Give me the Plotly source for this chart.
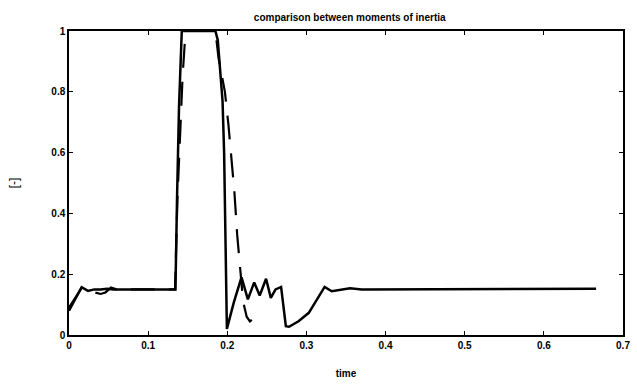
import plotly.graph_objects as go

# Solid series (time, value)
solid_t = [0.0, 0.006, 0.016, 0.024, 0.032, 0.040, 0.048, 0.056, 0.070, 0.090, 0.110, 0.125, 0.1345,
           0.1365, 0.139, 0.1425, 0.160, 0.185, 0.188, 0.191, 0.194, 0.196, 0.1975, 0.1985, 0.1995,
           0.208, 0.218, 0.226, 0.234, 0.241, 0.249, 0.255, 0.261, 0.268, 0.274, 0.278, 0.290,
           0.303, 0.316, 0.323, 0.332, 0.340, 0.355, 0.370, 0.450, 0.550, 0.666]
solid_v = [0.08, 0.11, 0.157, 0.145, 0.150, 0.150, 0.152, 0.150, 0.150, 0.152, 0.150, 0.150, 0.150,
           0.45, 0.75, 1.0, 1.0, 1.0, 0.97, 0.88, 0.77, 0.60, 0.40, 0.20, 0.02,
           0.105, 0.19, 0.117, 0.173, 0.13, 0.185, 0.122, 0.15, 0.158, 0.029, 0.027, 0.045,
           0.073, 0.127, 0.158, 0.144, 0.147, 0.154, 0.150, 0.150, 0.151, 0.152]

# Dashed series (time, value)
dashed_t = [0.0, 0.005, 0.016, 0.025, 0.033, 0.040, 0.046, 0.053, 0.060, 0.090, 0.120, 0.134,
            0.137, 0.1405, 0.1435, 0.146, 0.1475, 0.170, 0.185, 0.189, 0.197, 0.2015, 0.2055,
            0.209, 0.2125, 0.2165, 0.220, 0.2245, 0.2286, 0.231]
dashed_v = [0.09, 0.11, 0.155, 0.145, 0.140, 0.135, 0.140, 0.156, 0.150, 0.150, 0.150, 0.150,
            0.45, 0.70, 0.85, 0.95, 1.0, 1.0, 1.0, 0.91, 0.80, 0.69, 0.58,
            0.47, 0.33, 0.20, 0.11, 0.06, 0.045, 0.05]

x_ticks = [0, 0.1, 0.2, 0.3, 0.4, 0.5, 0.6, 0.7]
x_labels = ["0", "0.1", "0.2", "0.3", "0.4", "0.5", "0.6", "0.7"]
y_ticks = [0, 0.2, 0.4, 0.6, 0.8, 1]
y_labels = ["0", "0.2", "0.4", "0.6", "0.8", "1"]

fig = go.Figure()
fig.add_trace(go.Scatter(x=dashed_t, y=dashed_v, mode="lines", cliponaxis=False,
                         line=dict(color="black", width=2.2, dash="24px,14px")))
fig.add_trace(go.Scatter(x=solid_t, y=solid_v, mode="lines", cliponaxis=False,
                         line=dict(color="black", width=2.5)))

tickfont = dict(family="Liberation Sans, Arial, sans-serif", size=10, color="black", weight="bold")
fig.update_layout(
    width=637, height=385,
    margin=dict(l=69, r=7, t=31, b=50),
    paper_bgcolor="white", plot_bgcolor="white",
    showlegend=False,
    title=dict(text="comparison between moments of inertia", x=0.549, xanchor="center",
               y=0.955, yanchor="middle",
               font=dict(family="Liberation Sans, Arial, sans-serif", size=10, color="black", weight="bold")),
    xaxis=dict(range=[0, 0.7], tickvals=x_ticks, ticktext=x_labels, ticks="inside", ticklen=4,
               tickcolor="black", showline=True, linecolor="black", linewidth=1.5, mirror="ticks",
               showgrid=False, zeroline=False, tickfont=tickfont,
               title=dict(text="time", standoff=20, font=tickfont)),
    yaxis=dict(range=[0, 1], tickvals=y_ticks, ticktext=y_labels, ticks="inside", ticklen=4,
               tickcolor="black", showline=True, linecolor="black", linewidth=1.5, mirror="ticks",
               showgrid=False, zeroline=False, tickfont=tickfont,
               title=dict(text="[-]", standoff=30, font=dict(family="Liberation Sans, Arial, sans-serif", size=12, color="black"))),
)

fig.write_html("out.html")
